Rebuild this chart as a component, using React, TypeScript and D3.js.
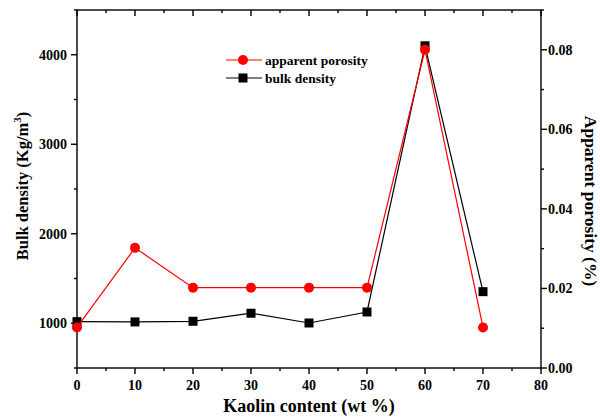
import React from 'react';
import * as d3 from 'd3';

// kaolin content (wt %)
const kaolin = [0, 10, 20, 30, 40, 50, 60, 70];
// bulk density (Kg/m3), left axis
const bulkDensity = [1018, 1015, 1022, 1112, 1003, 1126, 4100, 1353];
// apparent porosity (%), right axis
const porosity = [0.0102, 0.0302, 0.0202, 0.0202, 0.0202, 0.0202, 0.08, 0.0102];

const xTicks = [0, 10, 20, 30, 40, 50, 60, 70, 80];
const leftTicks = [1000, 2000, 3000, 4000];
const rightTicks = [0, 0.02, 0.04, 0.06, 0.08];

const W = 600;
const H = 417;
const margin = { top: 10, right: 59, bottom: 49, left: 77 };
const font = '"Liberation Serif", "Times New Roman", serif';

const App = () => {
  const x = d3.scaleLinear().domain([0, 80]).range([margin.left, W - margin.right]);
  const yL = d3.scaleLinear().domain([500, 4500]).range([H - margin.bottom, margin.top]);
  const yR = d3.scaleLinear().domain([0, 0.09]).range([H - margin.bottom, margin.top]);

  const x0 = x(0), x1 = x(80);
  const yb = yL(500), yt = yL(4500);

  const bulkLine = d3.line<number>().x((d, i) => x(kaolin[i])).y(d => yL(d))(bulkDensity) || '';
  const poroLine = d3.line<number>().x((d, i) => x(kaolin[i])).y(d => yR(d))(porosity) || '';

  const xMinor = d3.range(5, 80, 10);
  const lMinor = d3.range(500, 4501, 1000);
  const rMinor = d3.range(0.01, 0.0901, 0.02);

  return (
    <svg width={W} height={H} style={{ position: 'absolute', left: 0, top: 0 }} fontFamily={font} fontWeight="bold">
      {/* frame */}
      <rect x={x0} y={yt} width={x1 - x0} height={yb - yt} fill="none" stroke="#000" strokeWidth={1.4} />

      {/* bottom axis ticks (out) */}
      {xTicks.map(t => (
        <g key={'xb' + t}>
          <line x1={x(t)} x2={x(t)} y1={yb} y2={yb + 6} stroke="#000" strokeWidth={1.4} />
          <text x={x(t)} y={yb + 22} fontSize={14} textAnchor="middle">{t}</text>
        </g>
      ))}
      {xMinor.map(t => (
        <line key={'xbm' + t} x1={x(t)} x2={x(t)} y1={yb} y2={yb + 3} stroke="#000" strokeWidth={1.4} />
      ))}
      {/* top axis ticks (in) */}
      {xTicks.map(t => (
        <line key={'xt' + t} x1={x(t)} x2={x(t)} y1={yt} y2={yt + 6} stroke="#000" strokeWidth={1.4} />
      ))}
      {xMinor.map(t => (
        <line key={'xtm' + t} x1={x(t)} x2={x(t)} y1={yt} y2={yt + 3} stroke="#000" strokeWidth={1.4} />
      ))}

      {/* left axis */}
      {leftTicks.map(t => (
        <g key={'l' + t}>
          <line x1={x0 - 6} x2={x0} y1={yL(t)} y2={yL(t)} stroke="#000" strokeWidth={1.4} />
          <text x={x0 - 10} y={yL(t)} dy="0.35em" fontSize={14} textAnchor="end">{t}</text>
        </g>
      ))}
      {lMinor.map(t => (
        <line key={'lm' + t} x1={x0 - 3} x2={x0} y1={yL(t)} y2={yL(t)} stroke="#000" strokeWidth={1.4} />
      ))}

      {/* right axis */}
      {rightTicks.map(t => (
        <g key={'r' + t}>
          <line x1={x1} x2={x1 + 6} y1={yR(t)} y2={yR(t)} stroke="#000" strokeWidth={1.4} />
          <text x={x1 + 7} y={yR(t)} dy="0.35em" fontSize={14} textAnchor="start">{t.toFixed(2)}</text>
        </g>
      ))}
      {rMinor.map(t => (
        <line key={'rm' + t} x1={x1} x2={x1 + 3} y1={yR(t)} y2={yR(t)} stroke="#000" strokeWidth={1.4} />
      ))}

      {/* axis titles */}
      <text x={(x0 + x1) / 2} y={412} fontSize={18} textAnchor="middle">Kaolin content (wt %)</text>
      <text transform={`translate(28, 186) rotate(-90)`} fontSize={16.5} textAnchor="middle">
        Bulk density (Kg/m<tspan dy={-7} fontSize={11}>3</tspan><tspan dy={7}>)</tspan>
      </text>
      <text transform={`translate(585, 201) rotate(90)`} fontSize={17.5} textAnchor="middle">Apparent porosity (%)</text>

      {/* series */}
      <path d={bulkLine} fill="none" stroke="#000" strokeWidth={1.2} />
      {bulkDensity.map((d, i) => (
        <rect key={'b' + i} x={x(kaolin[i]) - 4.5} y={yL(d) - 4.5} width={9} height={9} fill="#000" />
      ))}
      <path d={poroLine} fill="none" stroke="#ff0000" strokeWidth={1.2} />
      {porosity.map((d, i) => (
        <circle key={'p' + i} cx={x(kaolin[i])} cy={yR(d)} r={5} fill="#ff0000" />
      ))}

      {/* legend */}
      <g>
        <line x1={226} x2={262} y1={60} y2={60} stroke="#ff0000" strokeWidth={1.2} />
        <circle cx={243} cy={60} r={5} fill="#ff0000" />
        <text x={265} y={60} dy="0.35em" fontSize={13.5}>apparent porosity</text>
        <line x1={226} x2={262} y1={78} y2={78} stroke="#000" strokeWidth={1.2} />
        <rect x={238.5} y={73.5} width={9} height={9} fill="#000" />
        <text x={265} y={78} dy="0.35em" fontSize={13.5}>bulk density</text>
      </g>
    </svg>
  );
};

export default App;
